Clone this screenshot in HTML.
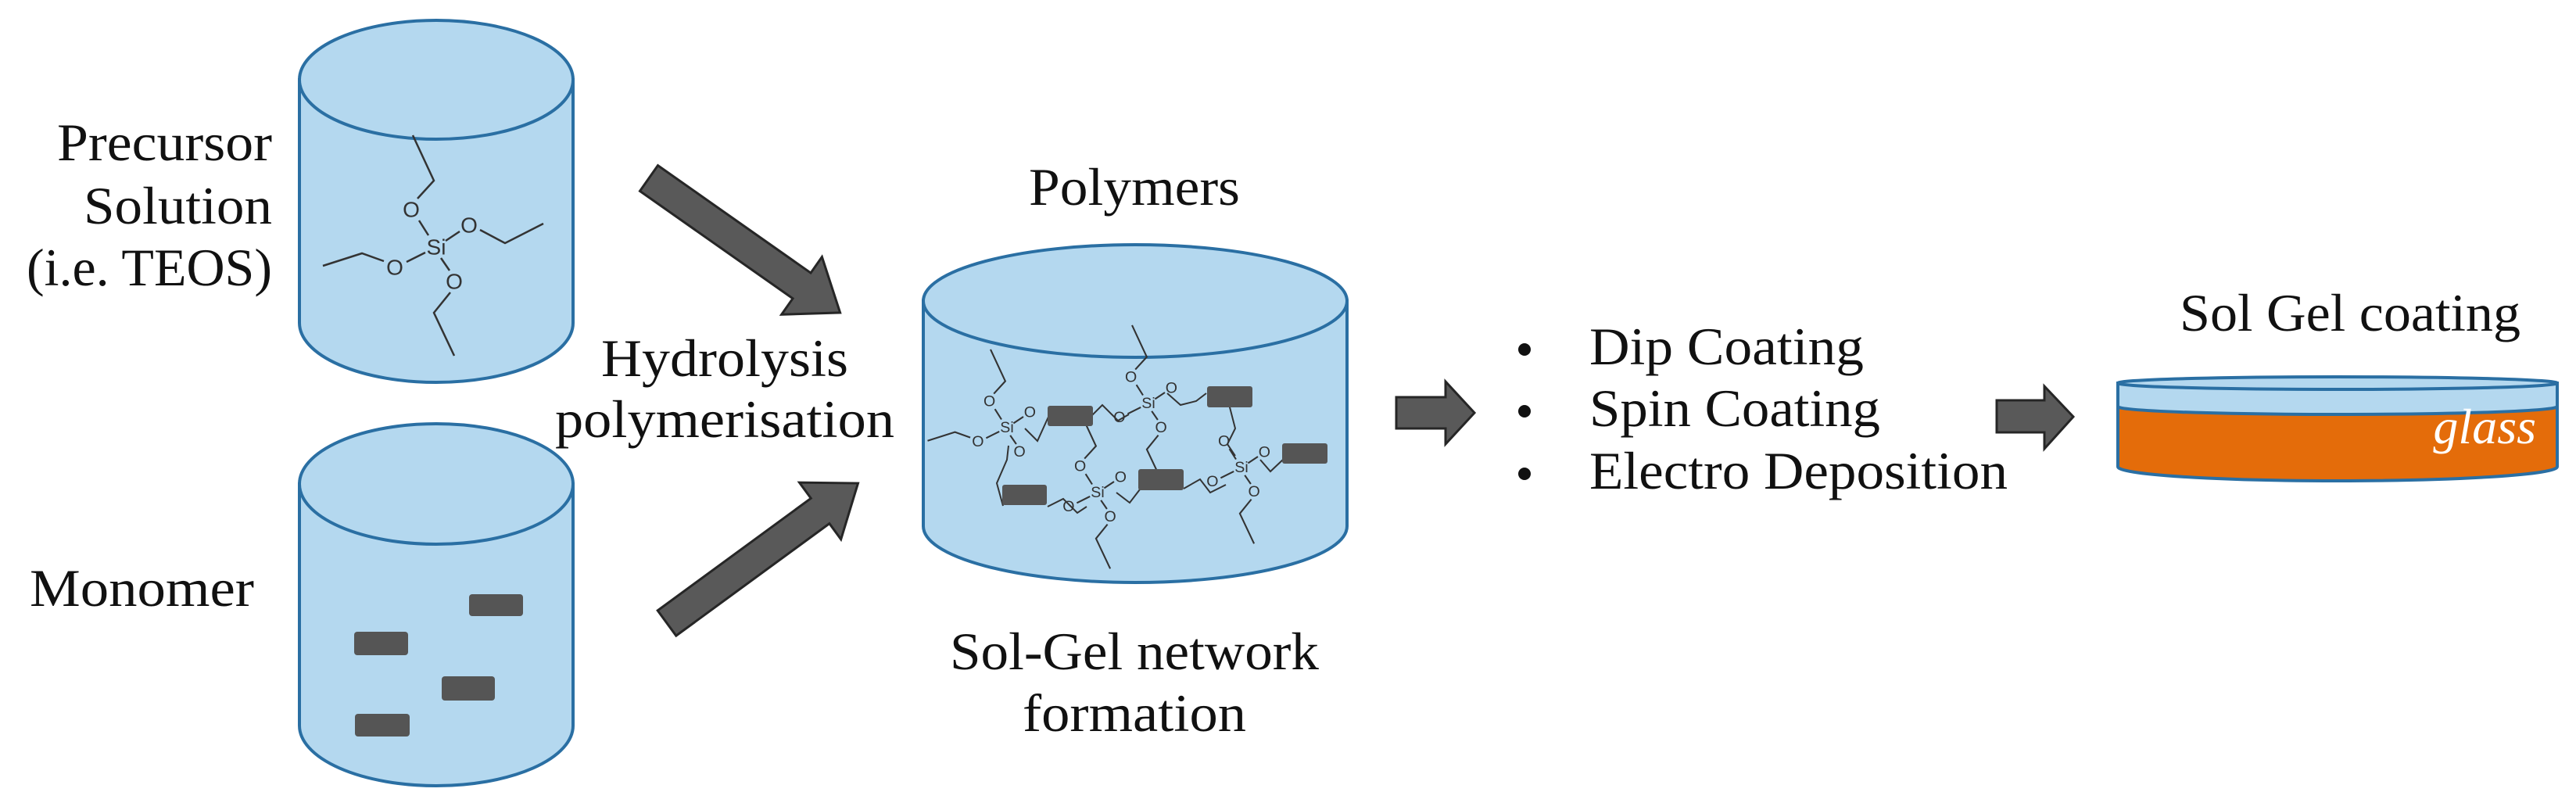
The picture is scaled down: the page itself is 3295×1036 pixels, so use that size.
<!DOCTYPE html>
<html><head><meta charset="utf-8"><style>
html,body{margin:0;padding:0;background:#fff;}
svg{display:block;}
text{font-family:"Liberation Serif",serif;fill:#111;}
.m{font-family:"Liberation Sans",sans-serif;fill:#333;font-size:28px;text-anchor:middle;dominant-baseline:central;}
</style></head><body>
<svg width="3295" height="1036" viewBox="0 0 3295 1036" xmlns="http://www.w3.org/2000/svg">
<defs>
<g id="teos" stroke="#333" stroke-width="2.5" fill="none">
<path d="M-10,-15 L-22,-34 M-24,-62 L-3,-85 L-30,-143 M12,-8 L30,-20 M56,-22 L88,-5 L137,-30 M-14,7 L-38,19 M-67,18 L-95,8 L-145,24 M6,14 L17,30 M18,58 L-3,84 L23,139"/>
</g>
</defs>

<!-- Cylinder 1 -->
<path d="M383,102 L383,413 A175,76 0 0 0 733,413 L733,102 Z" fill="#b4d8ef" stroke="#2a6fa3" stroke-width="4"/>
<ellipse cx="558" cy="102" rx="175" ry="76" fill="#b4d8ef" stroke="#2a6fa3" stroke-width="4"/>
<g transform="translate(558,316)">
<use href="#teos"/>
<text class="m" x="0" y="0">Si</text>
<text class="m" x="-32" y="-48">O</text>
<text class="m" x="42" y="-28">O</text>
<text class="m" x="-53" y="26">O</text>
<text class="m" x="23" y="44">O</text>
</g>

<!-- Cylinder 2 -->
<path d="M383,619 L383,928 A175,77 0 0 0 733,928 L733,619 Z" fill="#b4d8ef" stroke="#2a6fa3" stroke-width="4"/>
<ellipse cx="558" cy="619" rx="175" ry="77" fill="#b4d8ef" stroke="#2a6fa3" stroke-width="4"/>
<rect x="600" y="760" width="69" height="28" rx="4" fill="#555"/>
<rect x="453" y="808" width="69" height="30" rx="4" fill="#555"/>
<rect x="565" y="865" width="68" height="31" rx="4" fill="#555"/>
<rect x="454" y="913" width="70" height="29" rx="4" fill="#555"/>

<!-- Left labels -->
<text x="348" y="205" font-size="68" text-anchor="end" textLength="275" lengthAdjust="spacingAndGlyphs">Precursor</text>
<text x="348" y="286" font-size="68" text-anchor="end" textLength="241" lengthAdjust="spacingAndGlyphs">Solution</text>
<text x="348" y="365" font-size="68" text-anchor="end" textLength="314" lengthAdjust="spacingAndGlyphs">(i.e. TEOS)</text>
<text x="38" y="775" font-size="68" textLength="287" lengthAdjust="spacingAndGlyphs">Monomer</text>

<!-- Diagonal arrows -->
<polygon transform="translate(830,228) rotate(35.1)" points="0,-20 239,-20 239,-45 299,0 239,45 239,20 0,20" fill="#595959" stroke="#262626" stroke-width="3"/>
<polygon transform="translate(853,797) rotate(-36.2)" points="0,-20 243,-20 243,-45 303,0 243,45 243,20 0,20" fill="#595959" stroke="#262626" stroke-width="3"/>

<text x="769" y="481" font-size="68" textLength="316" lengthAdjust="spacingAndGlyphs">Hydrolysis</text>
<text x="710" y="559" font-size="68" textLength="434" lengthAdjust="spacingAndGlyphs">polymerisation</text>

<!-- Cylinder 3 -->
<text x="1451" y="262" font-size="68" text-anchor="middle" textLength="270" lengthAdjust="spacingAndGlyphs">Polymers</text>
<path d="M1181,385 L1181,673 A271,72 0 0 0 1723,673 L1723,385 Z" fill="#b4d8ef" stroke="#2a6fa3" stroke-width="4"/>
<ellipse cx="1452" cy="385" rx="271" ry="72" fill="#b4d8ef" stroke="#2a6fa3" stroke-width="4"/>

<g transform="translate(0,-42)">
<g stroke="#333" stroke-width="2" fill="none">
<path d="M1311,590 L1327,606 L1342,573"/>
<path d="M1397,573 L1410,560 L1430,580 L1444,572"/>
<path d="M1493,545 L1510,560 L1530,555 L1543,545"/>
<path d="M1572,559 L1580,590 L1570,610 L1580,625"/>
<path d="M1612,630 L1625,645 L1643,628"/>
<path d="M1283,689 L1275,660 L1288,630 L1290,612"/>
<path d="M1340,690 L1360,680 L1378,698 L1390,690"/>
<path d="M1428,672 L1445,685 L1458,668"/>
<path d="M1514,667 L1535,655 L1548,672 L1568,662"/>
</g>
<g transform="translate(1288,589) scale(0.7)"><g stroke="#333" stroke-width="3" fill="none"><path d="M-10,-15 L-22,-34 M-24,-62 L-3,-85 L-30,-143 M-14,7 L-38,19 M-67,18 L-95,8 L-145,24 M6,14 L17,30 M12,-8 L30,-20"/></g>
<text class="m" x="0" y="0">Si</text><text class="m" x="-32" y="-48">O</text><text class="m" x="42" y="-28">O</text><text class="m" x="-53" y="26">O</text><text class="m" x="23" y="44">O</text></g>
<g transform="translate(1469,558) scale(0.7)"><g stroke="#333" stroke-width="3" fill="none"><path d="M-10,-15 L-22,-34 M-24,-62 L-3,-85 L-30,-143 M12,-8 L30,-20 M-14,7 L-38,19 M6,14 L17,30 M18,58 L-3,84 L23,139"/></g>
<text class="m" x="0" y="0">Si</text><text class="m" x="-32" y="-48">O</text><text class="m" x="42" y="-28">O</text><text class="m" x="-53" y="26">O</text><text class="m" x="23" y="44">O</text></g>
<g transform="translate(1404,672) scale(0.7)"><g stroke="#333" stroke-width="3" fill="none"><path d="M-10,-15 L-22,-34 M-24,-62 L-3,-85 L-30,-143 M12,-8 L30,-20 M-14,7 L-38,19 M6,14 L17,30 M18,58 L-3,84 L23,139"/></g>
<text class="m" x="0" y="0">Si</text><text class="m" x="-32" y="-48">O</text><text class="m" x="42" y="-28">O</text><text class="m" x="-53" y="26">O</text><text class="m" x="23" y="44">O</text></g>
<g transform="translate(1588,640) scale(0.7)"><g stroke="#333" stroke-width="3" fill="none"><path d="M-10,-15 L-22,-34 M12,-8 L30,-20 M-14,7 L-38,19 M6,14 L17,30 M18,58 L-3,84 L23,139"/></g>
<text class="m" x="0" y="0">Si</text><text class="m" x="-32" y="-48">O</text><text class="m" x="42" y="-28">O</text><text class="m" x="-53" y="26">O</text><text class="m" x="23" y="44">O</text></g>
<rect x="1340" y="561" width="58" height="26" rx="3" fill="#555"/>
<rect x="1544" y="536" width="58" height="27" rx="3" fill="#555"/>
<rect x="1640" y="609" width="58" height="26" rx="3" fill="#555"/>
<rect x="1456" y="642" width="58" height="27" rx="3" fill="#555"/>
<rect x="1282" y="662" width="57" height="26" rx="3" fill="#555"/>
</g>

<text x="1451" y="856" font-size="68" text-anchor="middle" textLength="472" lengthAdjust="spacingAndGlyphs">Sol-Gel network</text>
<text x="1451" y="935" font-size="68" text-anchor="middle" textLength="286" lengthAdjust="spacingAndGlyphs">formation</text>

<!-- Block arrows -->
<polygon points="1786,508 1849,508 1849,488 1886,528 1849,568 1849,548 1786,548" fill="#595959" stroke="#262626" stroke-width="3"/>
<polygon points="2554,512 2615,512 2615,494 2652,533 2615,574 2615,553 2554,553" fill="#595959" stroke="#262626" stroke-width="3"/>

<!-- Bullets -->
<circle cx="1950" cy="447" r="8" fill="#111"/>
<circle cx="1950" cy="526" r="8" fill="#111"/>
<circle cx="1950" cy="606" r="8" fill="#111"/>
<text x="2033" y="466" font-size="68" textLength="351" lengthAdjust="spacingAndGlyphs">Dip Coating</text>
<text x="2033" y="545" font-size="68" textLength="372" lengthAdjust="spacingAndGlyphs">Spin Coating</text>
<text x="2033" y="625" font-size="68" textLength="535" lengthAdjust="spacingAndGlyphs">Electro Deposition</text>

<!-- Dish -->
<text x="2788" y="423" font-size="68" textLength="436" lengthAdjust="spacingAndGlyphs">Sol Gel coating</text>
<path d="M2709,520 L2709,597 A281,18 0 0 0 3271,597 L3271,520 Z" fill="#e46c0a" stroke="#2a6fa3" stroke-width="4"/>
<path d="M2709,490 L2709,520 A281,10 0 0 0 3271,520 L3271,490 Z" fill="#b4d8ef" stroke="#2a6fa3" stroke-width="4"/>
<ellipse cx="2990" cy="490" rx="281" ry="8" fill="#b4d8ef" stroke="#2a6fa3" stroke-width="4"/>
<text x="3244" y="567" font-size="64" font-style="italic" text-anchor="end" style="fill:#fff">glass</text>
</svg>
</body></html>
